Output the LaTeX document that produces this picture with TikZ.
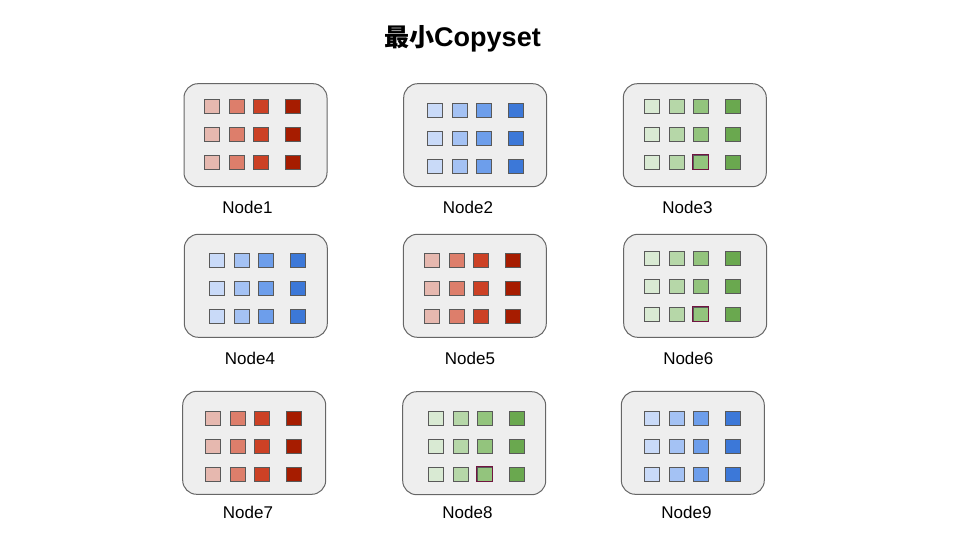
\documentclass[tikz,border=0pt]{standalone}
\usepackage{fontspec}
\setmainfont{Liberation Sans}
\newfontfamily\cjk{Noto Sans CJK SC}
\definecolor{red1}{HTML}{E6B8AF}
\definecolor{red2}{HTML}{DD7E6B}
\definecolor{red3}{HTML}{CC4125}
\definecolor{red4}{HTML}{A61C00}
\definecolor{blue1}{HTML}{C9DAF8}
\definecolor{blue2}{HTML}{A4C2F4}
\definecolor{blue3}{HTML}{6D9EEB}
\definecolor{blue4}{HTML}{3C78D8}
\definecolor{green1}{HTML}{D9EAD3}
\definecolor{green2}{HTML}{B6D7A8}
\definecolor{green3}{HTML}{93C47D}
\definecolor{green4}{HTML}{6AA84F}
\definecolor{boxfill}{HTML}{EEEEEE}
\definecolor{boxline}{HTML}{666666}
\definecolor{sqline}{HTML}{595959}
\definecolor{marked}{HTML}{701540}
\tikzset{
  nodebox/.style={draw=boxline, fill=boxfill, line width=1pt, rounded corners=14pt,
    minimum width=143pt, minimum height=103pt, inner sep=0pt},
  sq/.style={draw=sqline, line width=1pt, minimum width=15pt, minimum height=14pt, inner sep=0pt},
  lbl/.style={inner sep=0pt, font=\fontsize{17}{20}\selectfont, text=black},
  titlestyle/.style={inner sep=0pt, font=\bfseries\fontsize{27}{32}\selectfont}
}
% #1 name, #2 left, #3 top, #4 dx, #5 dy, #6 palette, #7 label, #8 label x, #9 label y
\newcommand{\mknode}[9]{%
  \node[nodebox, anchor=north west] (#1) at (#2+0.5,#3+0.5) {};
  \foreach \r/\ry in {1/0,2/28,3/56} {
    \foreach \c/\cx in {1/0,2/25,3/49,4/81} {
      \node[sq, fill=#6\c, anchor=north west] (#1-\r-\c) at (#2+20.8+#4+\cx, #3+16.1+#5+\ry) {};
    }
  }
  \node[lbl] (#1-label) at (#8,#9) {#7};
}
\begin{document}
\begin{tikzpicture}[x=1pt,y=-1pt]
\useasboundingbox (0,0) rectangle (960,540);
\node[titlestyle] (title) at (462.5,39) {{\cjk\fontsize{25}{30}\selectfont 最小}Copyset};
\mknode{n1}{183}{82.7}{0}{0}{red}{Node1}{247.5}{207}
\mknode{n2}{402.7}{82.7}{3.7}{4}{blue}{Node2}{468}{207}
\mknode{n3}{622.3}{82.7}{0.7}{0}{green}{Node3}{687.5}{207}
\mknode{n4}{183.3}{233.3}{4.7}{3.4}{blue}{Node4}{250}{358}
\mknode{n5}{402.3}{233.3}{0.7}{3.4}{red}{Node5}{470}{358}
\mknode{n6}{622.7}{233.3}{0.3}{1.1}{green}{Node6}{688.3}{358}
\mknode{n7}{181.7}{390.3}{2.3}{4.4}{red}{Node7}{248}{512.5}
\mknode{n8}{401.7}{390.7}{5.3}{3.7}{green}{Node8}{467.5}{512.5}
\mknode{n9}{620.3}{390.3}{3.1}{4.4}{blue}{Node9}{686.5}{512.5}
\foreach \n in {n3,n6,n8} {
  \draw[draw=marked, line width=1pt] (\n-3-3.north west) rectangle (\n-3-3.south east);
}
\end{tikzpicture}
\end{document}
